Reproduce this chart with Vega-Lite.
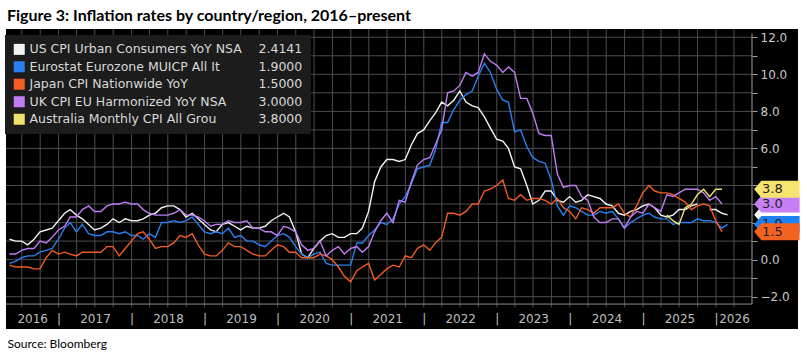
{
  "$schema": "https://vega.github.io/schema/vega-lite/v6.json",
  "width": 792,
  "height": 300,
  "autosize": "none",
  "padding": {"left": 6, "top": 29, "right": 9, "bottom": 27},
  "background": "white",
  "config": {
    "view": {"fill": "#000000", "stroke": null},
    "font": "DejaVu Sans"
  },
  "title": {
    "text": "Figure 3: Inflation rates by country/region, 2016–present",
    "anchor": "start",
    "frame": "group",
    "font": "Lato",
    "fontWeight": "bold",
    "fontSize": 16,
    "color": "#000000",
    "baseline": "alphabetic",
    "offset": -8,
    "dx": 1
  },
  "resolve": {"axis": {"x": "independent", "y": "independent"}},
  "datasets": {
    "cpi": [
      {"d": "2016-04-30", "US": 1.1, "EZ": -0.2, "JP": -0.3, "UK": 0.3},
      {"d": "2016-05-31", "US": 1.0, "EZ": -0.1, "JP": -0.4, "UK": 0.3},
      {"d": "2016-06-30", "US": 1.0, "EZ": 0.1, "JP": -0.4, "UK": 0.5},
      {"d": "2016-07-31", "US": 0.8, "EZ": 0.2, "JP": -0.4, "UK": 0.6},
      {"d": "2016-08-31", "US": 1.1, "EZ": 0.2, "JP": -0.5, "UK": 0.6},
      {"d": "2016-09-30", "US": 1.5, "EZ": 0.4, "JP": -0.5, "UK": 1.0},
      {"d": "2016-10-31", "US": 1.6, "EZ": 0.5, "JP": 0.1, "UK": 0.9},
      {"d": "2016-11-30", "US": 1.7, "EZ": 0.6, "JP": 0.5, "UK": 1.2},
      {"d": "2016-12-31", "US": 2.1, "EZ": 1.1, "JP": 0.3, "UK": 1.6},
      {"d": "2017-01-31", "US": 2.5, "EZ": 1.7, "JP": 0.4, "UK": 1.8},
      {"d": "2017-02-28", "US": 2.7, "EZ": 2.0, "JP": 0.3, "UK": 2.3},
      {"d": "2017-03-31", "US": 2.4, "EZ": 1.5, "JP": 0.2, "UK": 2.3},
      {"d": "2017-04-30", "US": 2.2, "EZ": 1.9, "JP": 0.4, "UK": 2.7},
      {"d": "2017-05-31", "US": 1.9, "EZ": 1.4, "JP": 0.4, "UK": 2.9},
      {"d": "2017-06-30", "US": 1.6, "EZ": 1.3, "JP": 0.4, "UK": 2.6},
      {"d": "2017-07-31", "US": 1.7, "EZ": 1.3, "JP": 0.4, "UK": 2.6},
      {"d": "2017-08-31", "US": 1.9, "EZ": 1.5, "JP": 0.7, "UK": 2.9},
      {"d": "2017-09-30", "US": 2.2, "EZ": 1.5, "JP": 0.7, "UK": 3.0},
      {"d": "2017-10-31", "US": 2.0, "EZ": 1.4, "JP": 0.2, "UK": 3.0},
      {"d": "2017-11-30", "US": 2.2, "EZ": 1.5, "JP": 0.6, "UK": 3.1},
      {"d": "2017-12-31", "US": 2.1, "EZ": 1.3, "JP": 1.0, "UK": 3.0},
      {"d": "2018-01-31", "US": 2.1, "EZ": 1.3, "JP": 1.4, "UK": 3.0},
      {"d": "2018-02-28", "US": 2.2, "EZ": 1.1, "JP": 1.5, "UK": 2.7},
      {"d": "2018-03-31", "US": 2.4, "EZ": 1.4, "JP": 1.1, "UK": 2.5},
      {"d": "2018-04-30", "US": 2.5, "EZ": 1.2, "JP": 0.6, "UK": 2.4},
      {"d": "2018-05-31", "US": 2.8, "EZ": 2.0, "JP": 0.7, "UK": 2.4},
      {"d": "2018-06-30", "US": 2.9, "EZ": 2.0, "JP": 0.7, "UK": 2.4},
      {"d": "2018-07-31", "US": 2.9, "EZ": 2.1, "JP": 0.9, "UK": 2.5},
      {"d": "2018-08-31", "US": 2.7, "EZ": 2.0, "JP": 1.3, "UK": 2.7},
      {"d": "2018-09-30", "US": 2.3, "EZ": 2.1, "JP": 1.2, "UK": 2.4},
      {"d": "2018-10-31", "US": 2.5, "EZ": 2.3, "JP": 1.4, "UK": 2.4},
      {"d": "2018-11-30", "US": 2.2, "EZ": 1.9, "JP": 0.8, "UK": 2.3},
      {"d": "2018-12-31", "US": 1.9, "EZ": 1.5, "JP": 0.3, "UK": 2.1},
      {"d": "2019-01-31", "US": 1.6, "EZ": 1.4, "JP": 0.2, "UK": 1.8},
      {"d": "2019-02-28", "US": 1.5, "EZ": 1.5, "JP": 0.2, "UK": 1.9},
      {"d": "2019-03-31", "US": 1.9, "EZ": 1.4, "JP": 0.5, "UK": 1.9},
      {"d": "2019-04-30", "US": 2.0, "EZ": 1.7, "JP": 0.9, "UK": 2.1},
      {"d": "2019-05-31", "US": 1.8, "EZ": 1.2, "JP": 0.7, "UK": 2.0},
      {"d": "2019-06-30", "US": 1.6, "EZ": 1.3, "JP": 0.7, "UK": 2.0},
      {"d": "2019-07-31", "US": 1.8, "EZ": 1.0, "JP": 0.5, "UK": 2.1},
      {"d": "2019-08-31", "US": 1.7, "EZ": 1.0, "JP": 0.3, "UK": 1.7},
      {"d": "2019-09-30", "US": 1.7, "EZ": 0.8, "JP": 0.2, "UK": 1.7},
      {"d": "2019-10-31", "US": 1.8, "EZ": 0.7, "JP": 0.2, "UK": 1.5},
      {"d": "2019-11-30", "US": 2.1, "EZ": 1.0, "JP": 0.5, "UK": 1.5},
      {"d": "2019-12-31", "US": 2.3, "EZ": 1.3, "JP": 0.8, "UK": 1.3},
      {"d": "2020-01-31", "US": 2.5, "EZ": 1.4, "JP": 0.7, "UK": 1.8},
      {"d": "2020-02-29", "US": 2.3, "EZ": 1.2, "JP": 0.4, "UK": 1.7},
      {"d": "2020-03-31", "US": 1.5, "EZ": 0.7, "JP": 0.4, "UK": 1.5},
      {"d": "2020-04-30", "US": 0.3, "EZ": 0.3, "JP": 0.1, "UK": 0.8},
      {"d": "2020-05-31", "US": 0.1, "EZ": 0.1, "JP": 0.1, "UK": 0.5},
      {"d": "2020-06-30", "US": 0.6, "EZ": 0.3, "JP": 0.1, "UK": 0.6},
      {"d": "2020-07-31", "US": 1.0, "EZ": 0.4, "JP": 0.3, "UK": 1.0},
      {"d": "2020-08-31", "US": 1.3, "EZ": -0.2, "JP": 0.2, "UK": 0.2},
      {"d": "2020-09-30", "US": 1.4, "EZ": -0.3, "JP": 0.0, "UK": 0.5},
      {"d": "2020-10-31", "US": 1.2, "EZ": -0.3, "JP": -0.4, "UK": 0.7},
      {"d": "2020-11-30", "US": 1.2, "EZ": -0.3, "JP": -0.9, "UK": 0.3},
      {"d": "2020-12-31", "US": 1.4, "EZ": -0.3, "JP": -1.2, "UK": 0.6},
      {"d": "2021-01-31", "US": 1.4, "EZ": 0.9, "JP": -0.6, "UK": 0.7},
      {"d": "2021-02-28", "US": 1.7, "EZ": 0.9, "JP": -0.4, "UK": 0.4},
      {"d": "2021-03-31", "US": 2.6, "EZ": 1.3, "JP": -0.2, "UK": 0.7},
      {"d": "2021-04-30", "US": 4.2, "EZ": 1.6, "JP": -1.1, "UK": 1.5},
      {"d": "2021-05-31", "US": 5.0, "EZ": 2.0, "JP": -0.8, "UK": 2.1},
      {"d": "2021-06-30", "US": 5.4, "EZ": 1.9, "JP": -0.5, "UK": 2.5},
      {"d": "2021-07-31", "US": 5.4, "EZ": 2.2, "JP": -0.3, "UK": 2.0},
      {"d": "2021-08-31", "US": 5.3, "EZ": 3.0, "JP": -0.4, "UK": 3.2},
      {"d": "2021-09-30", "US": 5.4, "EZ": 3.4, "JP": 0.2, "UK": 3.1},
      {"d": "2021-10-31", "US": 6.2, "EZ": 4.1, "JP": 0.1, "UK": 4.2},
      {"d": "2021-11-30", "US": 6.8, "EZ": 4.9, "JP": 0.6, "UK": 5.1},
      {"d": "2021-12-31", "US": 7.0, "EZ": 5.0, "JP": 0.8, "UK": 5.4},
      {"d": "2022-01-31", "US": 7.5, "EZ": 5.1, "JP": 0.5, "UK": 5.5},
      {"d": "2022-02-28", "US": 7.9, "EZ": 5.9, "JP": 0.9, "UK": 6.2},
      {"d": "2022-03-31", "US": 8.5, "EZ": 7.4, "JP": 1.2, "UK": 7.0},
      {"d": "2022-04-30", "US": 8.3, "EZ": 7.4, "JP": 2.5, "UK": 9.0},
      {"d": "2022-05-31", "US": 8.6, "EZ": 8.1, "JP": 2.5, "UK": 9.1},
      {"d": "2022-06-30", "US": 9.1, "EZ": 8.6, "JP": 2.4, "UK": 9.4},
      {"d": "2022-07-31", "US": 8.5, "EZ": 8.9, "JP": 2.6, "UK": 10.1},
      {"d": "2022-08-31", "US": 8.3, "EZ": 9.1, "JP": 3.0, "UK": 9.9},
      {"d": "2022-09-30", "US": 8.2, "EZ": 9.9, "JP": 3.0, "UK": 10.1},
      {"d": "2022-10-31", "US": 7.7, "EZ": 10.6, "JP": 3.7, "UK": 11.1},
      {"d": "2022-11-30", "US": 7.1, "EZ": 10.1, "JP": 3.8, "UK": 10.7},
      {"d": "2022-12-31", "US": 6.5, "EZ": 9.2, "JP": 4.0, "UK": 10.5},
      {"d": "2023-01-31", "US": 6.4, "EZ": 8.6, "JP": 4.3, "UK": 10.1},
      {"d": "2023-02-28", "US": 6.0, "EZ": 8.5, "JP": 3.3, "UK": 10.4},
      {"d": "2023-03-31", "US": 5.0, "EZ": 6.9, "JP": 3.2, "UK": 10.1},
      {"d": "2023-04-30", "US": 4.9, "EZ": 7.0, "JP": 3.5, "UK": 8.7},
      {"d": "2023-05-31", "US": 4.0, "EZ": 6.1, "JP": 3.2, "UK": 8.7},
      {"d": "2023-06-30", "US": 3.0, "EZ": 5.5, "JP": 3.3, "UK": 7.9},
      {"d": "2023-07-31", "US": 3.2, "EZ": 5.3, "JP": 3.3, "UK": 6.8},
      {"d": "2023-08-31", "US": 3.7, "EZ": 5.2, "JP": 3.2, "UK": 6.7},
      {"d": "2023-09-30", "US": 3.7, "EZ": 4.3, "JP": 3.0, "UK": 6.7},
      {"d": "2023-10-31", "US": 3.2, "EZ": 2.9, "JP": 3.3, "UK": 4.6},
      {"d": "2023-11-30", "US": 3.1, "EZ": 2.4, "JP": 2.8, "UK": 3.9},
      {"d": "2023-12-31", "US": 3.4, "EZ": 2.9, "JP": 2.6, "UK": 4.0},
      {"d": "2024-01-31", "US": 3.1, "EZ": 2.8, "JP": 2.2, "UK": 4.0},
      {"d": "2024-02-29", "US": 3.2, "EZ": 2.6, "JP": 2.8, "UK": 3.4},
      {"d": "2024-03-31", "US": 3.5, "EZ": 2.4, "JP": 2.7, "UK": 3.2},
      {"d": "2024-04-30", "US": 3.4, "EZ": 2.4, "JP": 2.5, "UK": 2.3},
      {"d": "2024-05-31", "US": 3.3, "EZ": 2.6, "JP": 2.8, "UK": 2.0},
      {"d": "2024-06-30", "US": 3.0, "EZ": 2.5, "JP": 2.8, "UK": 2.0},
      {"d": "2024-07-31", "US": 2.9, "EZ": 2.6, "JP": 2.8, "UK": 2.2},
      {"d": "2024-08-31", "US": 2.5, "EZ": 2.2, "JP": 3.0, "UK": 2.2},
      {"d": "2024-09-30", "US": 2.4, "EZ": 1.7, "JP": 2.5, "UK": 1.7},
      {"d": "2024-10-31", "US": 2.6, "EZ": 2.0, "JP": 2.3, "UK": 2.3},
      {"d": "2024-11-30", "US": 2.7, "EZ": 2.2, "JP": 2.9, "UK": 2.6},
      {"d": "2024-12-31", "US": 2.9, "EZ": 2.4, "JP": 3.6, "UK": 2.5},
      {"d": "2025-01-31", "US": 3.0, "EZ": 2.5, "JP": 4.0, "UK": 3.0},
      {"d": "2025-02-28", "US": 2.8, "EZ": 2.3, "JP": 3.7, "UK": 2.8},
      {"d": "2025-03-31", "US": 2.4, "EZ": 2.2, "JP": 3.6, "UK": 2.6},
      {"d": "2025-04-30", "US": 2.3, "EZ": 2.2, "JP": 3.6, "UK": 3.5, "AU": 2.4},
      {"d": "2025-05-31", "US": 2.4, "EZ": 1.9, "JP": 3.5, "UK": 3.4, "AU": 2.1},
      {"d": "2025-06-30", "US": 2.7, "EZ": 2.0, "JP": 3.3, "UK": 3.6, "AU": 1.9},
      {"d": "2025-07-31", "US": 2.7, "EZ": 2.0, "JP": 3.1, "UK": 3.8, "AU": 2.8},
      {"d": "2025-08-31", "US": 2.9, "EZ": 2.0, "JP": 2.7, "UK": 3.8, "AU": 3.0},
      {"d": "2025-09-30", "US": 3.0, "EZ": 2.2, "JP": 2.9, "UK": 3.8, "AU": 3.5},
      {"d": "2025-10-31", "EZ": 2.1, "JP": 3.0, "UK": 3.6, "AU": 3.8},
      {"d": "2025-11-30", "US": 2.7, "EZ": 2.1, "JP": 2.9, "UK": 3.2, "AU": 3.4},
      {"d": "2025-12-31", "US": 2.7, "EZ": 2.0, "JP": 2.1, "UK": 3.4, "AU": 3.8},
      {"d": "2026-01-31", "US": 2.5, "EZ": 1.7, "JP": 1.5, "UK": 3.0, "AU": 3.8},
      {"d": "2026-02-28", "US": 2.4141, "EZ": 1.9}
    ],
    "latest": [
      {"s": "US", "v": 2.4141},
      {"s": "EZ", "v": 1.9},
      {"s": "UK", "v": 3.0},
      {"s": "AU", "v": 3.8},
      {"s": "JP", "v": 1.5}
    ],
    "hgrid": [
      {"v": -2}, {"v": -1}, {"v": 0}, {"v": 1}, {"v": 2}, {"v": 3}, {"v": 4}, {"v": 5},
      {"v": 6}, {"v": 7}, {"v": 8}, {"v": 9}, {"v": 10}, {"v": 11}, {"v": 12}
    ],
    "vgrid": [
      {"q": "2016-07-01"}, {"q": "2016-10-01"},
      {"q": "2017-01-01"}, {"q": "2017-04-01"}, {"q": "2017-07-01"}, {"q": "2017-10-01"},
      {"q": "2018-01-01"}, {"q": "2018-04-01"}, {"q": "2018-07-01"}, {"q": "2018-10-01"},
      {"q": "2019-01-01"}, {"q": "2019-04-01"}, {"q": "2019-07-01"}, {"q": "2019-10-01"},
      {"q": "2020-01-01"}, {"q": "2020-04-01"}, {"q": "2020-07-01"}, {"q": "2020-10-01"},
      {"q": "2021-01-01"}, {"q": "2021-04-01"}, {"q": "2021-07-01"}, {"q": "2021-10-01"},
      {"q": "2022-01-01"}, {"q": "2022-04-01"}, {"q": "2022-07-01"}, {"q": "2022-10-01"},
      {"q": "2023-01-01"}, {"q": "2023-04-01"}, {"q": "2023-07-01"}, {"q": "2023-10-01"},
      {"q": "2024-01-01"}, {"q": "2024-04-01"}, {"q": "2024-07-01"}, {"q": "2024-10-01"},
      {"q": "2025-01-01"}, {"q": "2025-04-01"}, {"q": "2025-07-01"}, {"q": "2025-10-01"},
      {"q": "2026-01-01"}, {"q": "2026-04-01"}
    ]
  },
  "layer": [
    {
      "data": {"name": "hgrid"},
      "mark": {"type": "rule", "color": "#4d4d4d", "strokeWidth": 1},
      "encoding": {
        "y": {
          "field": "v", "type": "quantitative",
          "scale": {"domain": [-3.745, 12.445], "nice": false, "zero": false},
          "axis": {
            "orient": "right", "offset": -46,
            "values": [-2, -1, 0, 1, 2, 3, 4, 5, 6, 7, 8, 9, 10, 11, 12],
            "labelExpr": "(datum.value % 2 != 0 || datum.value == 2 || datum.value == 4) ? '' : format(datum.value, '.1f')",
            "domain": false, "grid": false, "ticks": true, "tickSize": 5, "tickColor": "#a0a0a0",
            "labelColor": "#c8c8c8", "labelFont": "DejaVu Sans", "labelFontSize": 12,
            "labelPadding": 3, "labelBaseline": "middle", "labelAlign": "left",
            "labelOverlap": false, "labelFlush": false, "labelBound": false, "title": null
          }
        },
        "x": {"datum": {"year": 2016, "month": 4, "date": 13}, "type": "temporal",
              "scale": {"domain": [{"year": 2016, "month": 4, "date": 13}, {"year": 2027, "month": 2, "date": 15}], "nice": false},
              "axis": null},
        "x2": {"datum": {"year": 2026, "month": 6, "date": 30}}
      }
    },
    {
      "data": {"name": "vgrid"},
      "mark": {"type": "rule", "color": "#4d4d4d", "strokeWidth": 1},
      "encoding": {
        "x": {
          "field": "q", "type": "temporal",
          "scale": {"domain": [{"year": 2016, "month": 4, "date": 13}, {"year": 2027, "month": 2, "date": 15}], "nice": false},
          "axis": {
            "orient": "bottom", "offset": -25,
            "values": [
              {"year": 2016, "month": 8, "date": 22},
              {"year": 2017, "month": 1, "date": 1}, {"year": 2017, "month": 7, "date": 2},
              {"year": 2018, "month": 1, "date": 1}, {"year": 2018, "month": 7, "date": 2},
              {"year": 2019, "month": 1, "date": 1}, {"year": 2019, "month": 7, "date": 2},
              {"year": 2020, "month": 1, "date": 1}, {"year": 2020, "month": 7, "date": 2},
              {"year": 2021, "month": 1, "date": 1}, {"year": 2021, "month": 7, "date": 2},
              {"year": 2022, "month": 1, "date": 1}, {"year": 2022, "month": 7, "date": 2},
              {"year": 2023, "month": 1, "date": 1}, {"year": 2023, "month": 7, "date": 2},
              {"year": 2024, "month": 1, "date": 1}, {"year": 2024, "month": 7, "date": 2},
              {"year": 2025, "month": 1, "date": 1}, {"year": 2025, "month": 7, "date": 2},
              {"year": 2026, "month": 1, "date": 1}, {"year": 2026, "month": 4, "date": 1}
            ],
            "labelExpr": "(month(datum.value) == 0 && date(datum.value) == 1) ? '|' : timeFormat(datum.value, '%Y')",
            "ticks": false, "tickSize": 0, "domain": false, "grid": false,
            "labelColor": "#bfbfbf", "labelFont": "DejaVu Sans", "labelFontSize": 12,
            "labelPadding": 14, "labelBaseline": "middle", "labelAlign": "center",
            "labelOverlap": false, "labelFlush": false, "labelBound": false,
            "title": "Source: Bloomberg", "titleX": 1, "titleY": 43, "titleAlign": "left",
            "titleAnchor": "start", "titleBaseline": "alphabetic", "titleFont": "Lato",
            "titleFontSize": 12, "titleFontWeight": "normal", "titleColor": "#000000", "titleAngle": 0
          }
        },
        "y": {"datum": 12.445, "type": "quantitative",
              "scale": {"domain": [-3.745, 12.445], "nice": false, "zero": false}, "axis": null},
        "y2": {"datum": -2.58}
      }
    },
    {
      "data": {"values": [{}]},
      "mark": {"type": "rule", "color": "#a0a0a0", "strokeWidth": 1},
      "encoding": {
        "x": {"datum": {"year": 2026, "month": 6, "date": 30}, "type": "temporal",
              "scale": {"domain": [{"year": 2016, "month": 4, "date": 13}, {"year": 2027, "month": 2, "date": 15}], "nice": false},
              "axis": null},
        "y": {"datum": 12.2, "type": "quantitative",
              "scale": {"domain": [-3.745, 12.445], "nice": false, "zero": false}, "axis": null},
        "y2": {"datum": -2.4}
      }
    },
    {
      "data": {"values": [{}]},
      "mark": {"type": "rule", "color": "#8c8c8c", "strokeWidth": 1},
      "encoding": {
        "x": {"datum": {"year": 2016, "month": 4, "date": 13}, "type": "temporal",
              "scale": {"domain": [{"year": 2016, "month": 4, "date": 13}, {"year": 2027, "month": 2, "date": 15}], "nice": false},
              "axis": null},
        "x2": {"datum": {"year": 2026, "month": 6, "date": 30}},
        "y": {"datum": -2.4, "type": "quantitative",
              "scale": {"domain": [-3.745, 12.445], "nice": false, "zero": false}, "axis": null}
      }
    },
    {
      "data": {"name": "cpi"},
      "transform": [{"fold": ["US", "EZ", "JP", "UK", "AU"], "as": ["s", "v"]}],
      "mark": {"type": "line", "strokeWidth": 1.4, "interpolate": "linear"},
      "encoding": {
        "x": {"field": "d", "type": "temporal",
              "scale": {"domain": [{"year": 2016, "month": 4, "date": 13}, {"year": 2027, "month": 2, "date": 15}], "nice": false},
              "axis": null},
        "y": {"field": "v", "type": "quantitative",
              "scale": {"domain": [-3.745, 12.445], "nice": false, "zero": false}, "axis": null},
        "color": {
          "field": "s", "type": "nominal",
          "scale": {
            "domain": ["US", "2.4141", "EZ", "1.9000", "JP", "1.5000", "UK", "3.0000", "AU", "3.8000"],
            "range": ["#f2f2f2", "rgba(0,0,0,0)", "#2a7ff0", "rgba(0,0,0,0)", "#f25c25", "rgba(0,0,0,0)", "#c07cf2", "rgba(0,0,0,0)", "#f0e36b", "rgba(0,0,0,0)"]
          },
          "legend": {
            "orient": "none", "legendX": -1, "legendY": 6,
            "direction": "horizontal", "columns": 2, "gridAlign": "each",
            "fillColor": "#1c1c1c", "padding": 8,
            "symbolType": "square", "symbolSize": 121, "symbolStrokeWidth": 0,
            "labelFont": "DejaVu Sans", "labelFontSize": 12.5, "labelColor": "#d9d9d9",
            "labelOffset": 4, "labelLimit": 400, "rowPadding": 4.5, "columnPadding": -17,
            "title": null,
            "labelExpr": "datum.label == 'US' ? 'US CPI Urban Consumers YoY NSA' : datum.label == 'EZ' ? 'Eurostat Eurozone MUICP All It' : datum.label == 'JP' ? 'Japan CPI Nationwide YoY' : datum.label == 'UK' ? 'UK CPI EU Harmonized YoY NSA' : datum.label == 'AU' ? 'Australia Monthly CPI All Grou' : datum.label + '   '",
            "encode": {
              "symbols": {
                "update": {
                  "fill": {"scale": "color", "field": "value"},
                  "stroke": {"value": "transparent"},
                  "opacity": {"value": 1}
                }
              }
            }
          }
        }
      }
    },
    {
      "data": {"name": "latest"},
      "transform": [{"filter": "datum.s == 'US' || datum.s == 'EZ'"}],
      "mark": {"type": "point", "filled": true, "opacity": 1, "strokeWidth": 0, "size": 289,
               "shape": "M0.25,0 L1.1,-1 L5.6,-1 L5.6,1 L1.1,1 Z"},
      "encoding": {
        "x": {"datum": {"year": 2026, "month": 6, "date": 30}, "type": "temporal",
              "scale": {"domain": [{"year": 2016, "month": 4, "date": 13}, {"year": 2027, "month": 2, "date": 15}], "nice": false},
              "axis": null},
        "y": {"field": "v", "type": "quantitative",
              "scale": {"domain": [-3.745, 12.445], "nice": false, "zero": false}, "axis": null},
        "fill": {"field": "s", "type": "nominal",
                 "scale": {"domain": ["US", "EZ", "JP", "UK", "AU"], "range": ["#ffffff", "#1e80f2", "#f26322", "#c67ff5", "#f7e46e"]},
                 "legend": null}
      }
    },
    {
      "data": {"name": "latest"},
      "transform": [{"filter": "datum.s == 'EZ'"}],
      "mark": {"type": "text", "align": "left", "baseline": "middle", "dx": 10, "font": "DejaVu Sans", "fontSize": 13, "color": "#1f1f1f"},
      "encoding": {
        "x": {"datum": {"year": 2026, "month": 6, "date": 30}, "type": "temporal",
              "scale": {"domain": [{"year": 2016, "month": 4, "date": 13}, {"year": 2027, "month": 2, "date": 15}], "nice": false},
              "axis": null},
        "y": {"field": "v", "type": "quantitative",
              "scale": {"domain": [-3.745, 12.445], "nice": false, "zero": false}, "axis": null},
        "text": {"field": "v", "type": "quantitative", "format": ".1f"}
      }
    },
    {
      "data": {"name": "latest"},
      "transform": [{"filter": "datum.s == 'UK' || datum.s == 'AU' || datum.s == 'JP'"}],
      "mark": {"type": "point", "filled": true, "opacity": 1, "strokeWidth": 0, "size": 289,
               "shape": "M0.25,0 L1.1,-1 L5.6,-1 L5.6,1 L1.1,1 Z"},
      "encoding": {
        "x": {"datum": {"year": 2026, "month": 6, "date": 30}, "type": "temporal",
              "scale": {"domain": [{"year": 2016, "month": 4, "date": 13}, {"year": 2027, "month": 2, "date": 15}], "nice": false},
              "axis": null},
        "y": {"field": "v", "type": "quantitative",
              "scale": {"domain": [-3.745, 12.445], "nice": false, "zero": false}, "axis": null},
        "fill": {"field": "s", "type": "nominal",
                 "scale": {"domain": ["US", "EZ", "JP", "UK", "AU"], "range": ["#ffffff", "#1e80f2", "#f26322", "#c67ff5", "#f7e46e"]},
                 "legend": null}
      }
    },
    {
      "data": {"name": "latest"},
      "transform": [{"filter": "datum.s == 'UK' || datum.s == 'AU' || datum.s == 'JP'"}],
      "mark": {"type": "text", "align": "left", "baseline": "middle", "dx": 10, "font": "DejaVu Sans", "fontSize": 13, "color": "#1f1f1f"},
      "encoding": {
        "x": {"datum": {"year": 2026, "month": 6, "date": 30}, "type": "temporal",
              "scale": {"domain": [{"year": 2016, "month": 4, "date": 13}, {"year": 2027, "month": 2, "date": 15}], "nice": false},
              "axis": null},
        "y": {"field": "v", "type": "quantitative",
              "scale": {"domain": [-3.745, 12.445], "nice": false, "zero": false}, "axis": null},
        "text": {"field": "v", "type": "quantitative", "format": ".1f"}
      }
    }
  ]
}
